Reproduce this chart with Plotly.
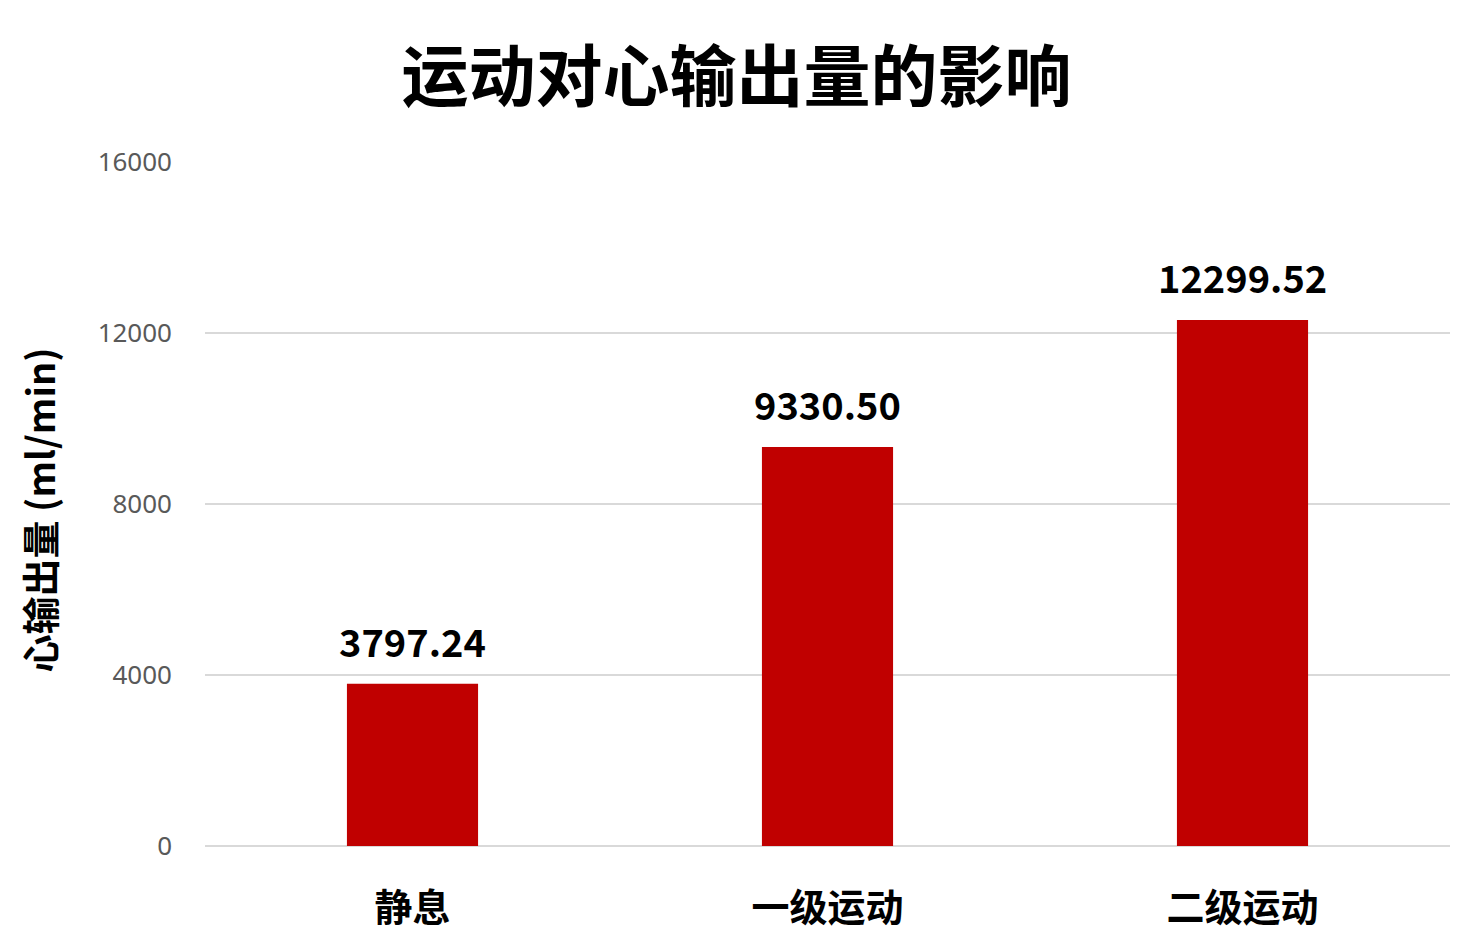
import plotly.graph_objects as go

categories = ["静息", "一级运动", "二级运动"]
values = [3797.24, 9330.50, 12299.52]
value_labels = ["3797.24", "9330.50", "12299.52"]
y_ticks = [0, 4000, 8000, 12000, 16000]
y_tick_labels = ["0", "4000", "8000", "12000", "16000"]

CJK = "Noto Sans CJK SC"

fig = go.Figure(go.Bar(
    x=categories,
    y=values,
    marker=dict(color="#C00000", line=dict(width=0)),
    hoverinfo="x+y",
))

for c, v, t in zip(categories, values, value_labels):
    fig.add_annotation(
        x=c, y=v, text=t, showarrow=False,
        xanchor="center", yanchor="bottom", yshift=14,
        font=dict(family=CJK, size=38, color="#000000", weight="bold"),
    )

fig.add_annotation(
    xref="paper", yref="paper", x=-0.134, y=0.49,
    xanchor="center", yanchor="middle", textangle=-90,
    text="心输出量 (ml/min)", showarrow=False,
    font=dict(family=CJK, size=38, color="#000000", weight="bold"),
)

fig.update_layout(
    width=1457, height=936,
    paper_bgcolor="white", plot_bgcolor="white",
    margin=dict(l=197, r=15, t=153, b=96),
    bargap=0.684,
    showlegend=False,
    title=dict(
        text="运动对心输出量的影响",
        x=0.5, xanchor="center",
        y=1 - 70 / 936, yanchor="middle",
        font=dict(family=CJK, size=67, color="#000000", weight="bold"),
    ),
)
fig.update_xaxes(
    showgrid=False, showline=False, zeroline=False, ticks="",
    tickfont=dict(family=CJK, size=38, color="#000000", weight="bold"),
    ticklabelstandoff=36,
)
fig.update_yaxes(
    range=[0, 16020], tickvals=y_ticks, ticktext=y_tick_labels,
    showgrid=True, gridcolor="#D9D9D9", gridwidth=2,
    zeroline=True, zerolinecolor="#D9D9D9", zerolinewidth=2,
    showline=False, ticks="",
    tickfont=dict(family="Noto Sans", size=26, color="#595959"),
    ticklabelstandoff=32,
)

fig.write_html("out.html")
